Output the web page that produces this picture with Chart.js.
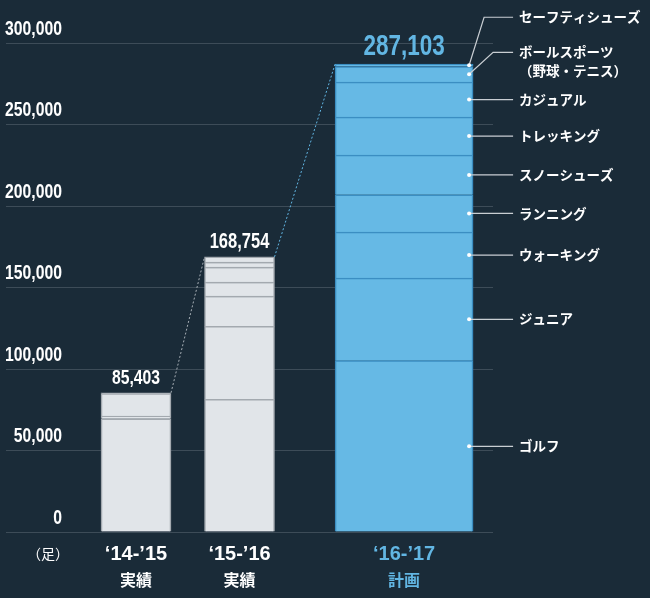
<!DOCTYPE html>
<html lang="ja">
<head>
<meta charset="UTF-8">
<title>足数推移</title>
<script src="https://cdn.jsdelivr.net/npm/chart.js"></script>
<style>
  html, body { margin: 0; padding: 0; background: #1a2b38; }
  #wrap { width: 650px; height: 598px; }
</style>
</head>
<body>
<div id="wrap"><canvas id="c" width="650" height="598"></canvas></div>
<script>
// 期間
const periods = ['‘14-’15', '‘15-’16', '‘16-’17'];
const periodNotes = ['実績', '実績', '計画'];
// カテゴリ（下から積み上げ順）
const categories = ['ゴルフ', 'ジュニア', 'ウォーキング', 'ランニング', 'スノーシューズ',
  'トレッキング', 'カジュアル', 'ボールスポーツ\n（野球・テニス）', 'セーフティシューズ'];
// 足数
const v1415 = [69500, 1650, 13700, 553, 0, 0, 0, 0, 0];
const v1516 = [81350, 44800, 18650, 8600, 0, 9200, 3050, 3104, 0];
const v1617 = [105100, 50700, 28200, 22900, 24350, 23300, 21450, 9600, 1503];
const yTicks = [0, 50000, 100000, 150000, 200000, 250000, 300000];

const series = [v1415, v1516, v1617];
const totals = series.map(s => s.reduce((a, b) => a + b, 0));

const GRID = '#3d4c58', BLUE = '#62b6e3', WHITE = '#ffffff';
const NUM = '"Liberation Sans", Arial, sans-serif';
const JP = '"Noto Sans CJK JP", sans-serif';
const SQUEEZE = 0.75; // 数字を細長く

// 棒の横位置（x軸の単位）
const xSlot = [1, 2, 3.59];
const grayW = 70, blueW = 138;

// 目盛り数字を横に縮める y 軸
const LinearBase = Chart.LinearScale || Chart.registry.getScale('linear');
class NarrowY extends LinearBase {
  _computeLabelArea() { return undefined; }
  drawLabels(area) {
    const ctx = this.ctx;
    ctx.save();
    ctx.translate(this.right, 0);
    ctx.scale(SQUEEZE, 1);
    ctx.translate(-this.right, 0);
    super.drawLabels(area);
    ctx.restore();
  }
}
NarrowY.id = 'narrowY';
NarrowY.defaults = LinearBase.defaults;
Chart.register(NarrowY);

const datasets = [];
categories.forEach((cat, k) => {
  datasets.push({
    label: cat,
    data: [0, 1].map(j => ({x: xSlot[j], y: series[j][k]})),
    backgroundColor: '#e1e5e9',
    borderColor: '#a3a9af',
    borderWidth: {top: 1.5, left: 1.5, right: 1.5, bottom: 0},
    barThickness: grayW,
    stack: 's'
  });
  datasets.push({
    label: cat,
    data: [{x: xSlot[2], y: series[2][k]}],
    backgroundColor: '#66b9e5',
    borderColor: '#3b8ec2',
    borderWidth: {top: 1.5, left: 1.5, right: 1.5, bottom: 0},
    barThickness: blueW,
    stack: 's'
  });
});

// 小さい区分はラベルを上にずらす
const leader = {8: {dy: -48, ex: 15}, 7: {dy: -22, ex: 24}};

const overlay = {
  id: 'overlay',
  afterDatasetsDraw(chart) {
    const {ctx, scales: {x, y}} = chart;
    const bars = series.map((s, j) => {
      const cx = x.getPixelForValue(xSlot[j]);
      const half = (j < 2 ? grayW : blueW) / 2;
      return {l: cx - half, r: cx + half, cx, top: y.getPixelForValue(totals[j])};
    });
    ctx.save();
    // つなぎの点線
    const linkColors = ['#a7afb6', BLUE];
    ctx.lineWidth = 1;
    ctx.setLineDash([2, 2]);
    for (let j = 0; j < bars.length - 1; j++) {
      ctx.strokeStyle = linkColors[j];
      ctx.beginPath();
      ctx.moveTo(bars[j].r, bars[j].top);
      ctx.lineTo(bars[j + 1].l, bars[j + 1].top);
      ctx.stroke();
    }
    ctx.setLineDash([]);
    // 合計値
    const sizes = [21, 22, 30];
    ctx.textAlign = 'center';
    ctx.textBaseline = 'alphabetic';
    bars.forEach((b, j) => {
      ctx.save();
      ctx.font = 'bold ' + sizes[j] + 'px ' + NUM;
      ctx.fillStyle = j === 2 ? BLUE : WHITE;
      ctx.translate(b.cx, b.top - 9);
      ctx.scale(SQUEEZE, 1);
      ctx.fillText(totals[j].toLocaleString('en-US'), 0, 0);
      ctx.restore();
    });
    // 右側のラベル
    const b3 = bars[2];
    const dotX = b3.r - 4, endX = b3.r + 40, textX = b3.r + 46;
    let cum = 0;
    ctx.font = 'bold 13.5px ' + JP;
    ctx.textAlign = 'left';
    ctx.textBaseline = 'middle';
    categories.forEach((cat, k) => {
      const v = v1617[k];
      const py = y.getPixelForValue(cum + v / 2);
      cum += v;
      const ld = leader[k];
      const ly = ld ? py + ld.dy : py;
      ctx.strokeStyle = '#c9ced3';
      ctx.lineWidth = 1.2;
      ctx.beginPath();
      ctx.moveTo(dotX, py);
      if (ld) ctx.lineTo(dotX + ld.ex, ly);
      ctx.lineTo(endX, ly);
      ctx.stroke();
      ctx.fillStyle = WHITE;
      ctx.beginPath();
      ctx.arc(dotX, py, 2, 0, Math.PI * 2);
      ctx.fill();
      cat.split('\n').forEach((t, i) => ctx.fillText(t, textX, ly + i * 19));
    });
    // 単位
    ctx.font = '14px ' + JP;
    ctx.textAlign = 'center';
    ctx.fillText('（足）', 48, 554);
    ctx.restore();
  }
};

const slotTicks = s => { s.ticks = xSlot.map(v => ({value: v})); };

new Chart(document.getElementById('c'), {
  type: 'bar',
  data: {datasets},
  options: {
    responsive: false,
    animation: false,
    grouped: false,
    layout: {padding: {left: 6, right: 157, top: 43, bottom: 0}},
    plugins: {legend: {display: false}, tooltip: {enabled: false}},
    scales: {
      x: {
        type: 'linear',
        offset: false,
        min: 0.285,
        max: 4.449,
        afterBuildTicks: slotTicks,
        afterFit: s => { s.height = 34; },
        grid: {display: false, drawTicks: false, offset: false},
        border: {display: false},
        ticks: {
          autoSkip: false,
          maxRotation: 0,
          padding: 10,
          callback: (v, i) => periods[i],
          color: c => c.index === 2 ? BLUE : WHITE,
          font: {family: NUM, size: 20, weight: 'bold'}
        }
      },
      x2: {
        type: 'linear',
        position: 'bottom',
        offset: false,
        min: 0.285,
        max: 4.449,
        afterBuildTicks: slotTicks,
        afterFit: s => { s.height = 32; },
        grid: {display: false, drawTicks: false, offset: false},
        border: {display: false},
        ticks: {
          autoSkip: false,
          maxRotation: 0,
          padding: 4,
          callback: (v, i) => periodNotes[i],
          color: c => c.index === 2 ? BLUE : WHITE,
          font: {family: JP, size: 16, weight: 'bold'}
        }
      },
      y: {
        type: 'narrowY',
        stacked: true,
        min: 0,
        max: 300000,
        afterBuildTicks: s => { s.ticks = yTicks.map(v => ({value: v})); },
        afterFit: s => { s.width = 56; },
        grid: {color: GRID, lineWidth: 1, tickLength: 56, tickColor: GRID},
        border: {display: false},
        ticks: {
          padding: -56,
          labelOffset: -14,
          color: WHITE,
          callback: v => v.toLocaleString('en-US'),
          font: {family: NUM, size: 21, weight: 'bold'}
        }
      }
    }
  },
  plugins: [overlay]
});
</script>
</body>
</html>
